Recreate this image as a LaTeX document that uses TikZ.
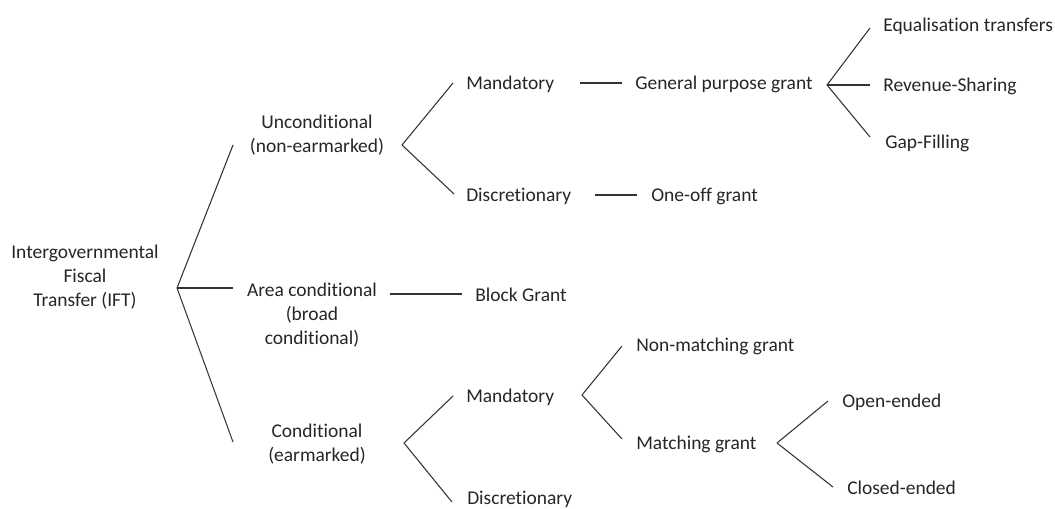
\documentclass[tikz,border=0pt]{standalone}
\usepackage{fontspec}
\setmainfont{Carlito}[Ligatures=NoCommon]
\usetikzlibrary{positioning}

\tikzset{
	lbl/.style={inner sep=0pt,font=\fontsize{14.6}{18}\selectfont,text=black!85},
	blk/.style={lbl,align=center},
	branch/.style={line width=0.8pt,color=black!80}
}

\begin{document}
\begin{tikzpicture}[x=0.75pt,y=-0.75pt]
\useasboundingbox (0,0) rectangle (1055,508);

% text blocks
\node[blk](ift) at (85,277){Intergovernmental\\Fiscal\\Transfer (IFT)};
\node[blk](uncond) at (317,135){Unconditional\\(non-earmarked)};
\node[blk](area) at (312,315){Area conditional\\(broad\\conditional)};
\node[blk](cond) at (317,444){Conditional\\(earmarked)};

\foreach \n/\x/\y/\t in {mandA/466/89/Mandatory,discA/466/201/Discretionary,
	gpg/635/89/General purpose grant,oneoff/651/201/One-off grant,
	equal/883/31/Equalisation transfers,revenue/883/91/Revenue-Sharing,gap/885/148/Gap-Filling,
	block/475/301/Block Grant,
	mandB/466/402/Mandatory,discB/467/504/Discretionary,
	nonmatch/636/351/Non-matching grant,match/636/449/Matching grant,
	open/842/407/Open-ended,closed/847/494/Closed-ended}
	\node[lbl,anchor=base west](\n) at (\x,\y){\t};

% branch points and free ends
\foreach \c/\x/\y in {r/177/288,r1/233/145,r2/233/288,r3/233/442,
	u/402/145,u1/453/83,u2/454/194,
	a1/390/294,a2/462/294,
	m1/580/83,m2/622/83,d1/595/195,d2/637/195,
	g/827/85,g1/870/28,g2/870/85,g3/870/137,
	c/404/443,c1/453/396,c2/452/502,
	k/582/395,k1/622/346,k2/622/439,
	h/777/443,h1/828/401,h2/833/487}
	\coordinate(\c) at (\x,\y);

\foreach \a/\b in {r/r1,r/r2,r/r3,u/u1,u/u2,a1/a2,m1/m2,d1/d2,
	g/g1,g/g2,g/g3,c/c1,c/c2,k/k1,k/k2,h/h1,h/h2}
	\draw[branch](\a)--(\b);
\end{tikzpicture}
\end{document}
